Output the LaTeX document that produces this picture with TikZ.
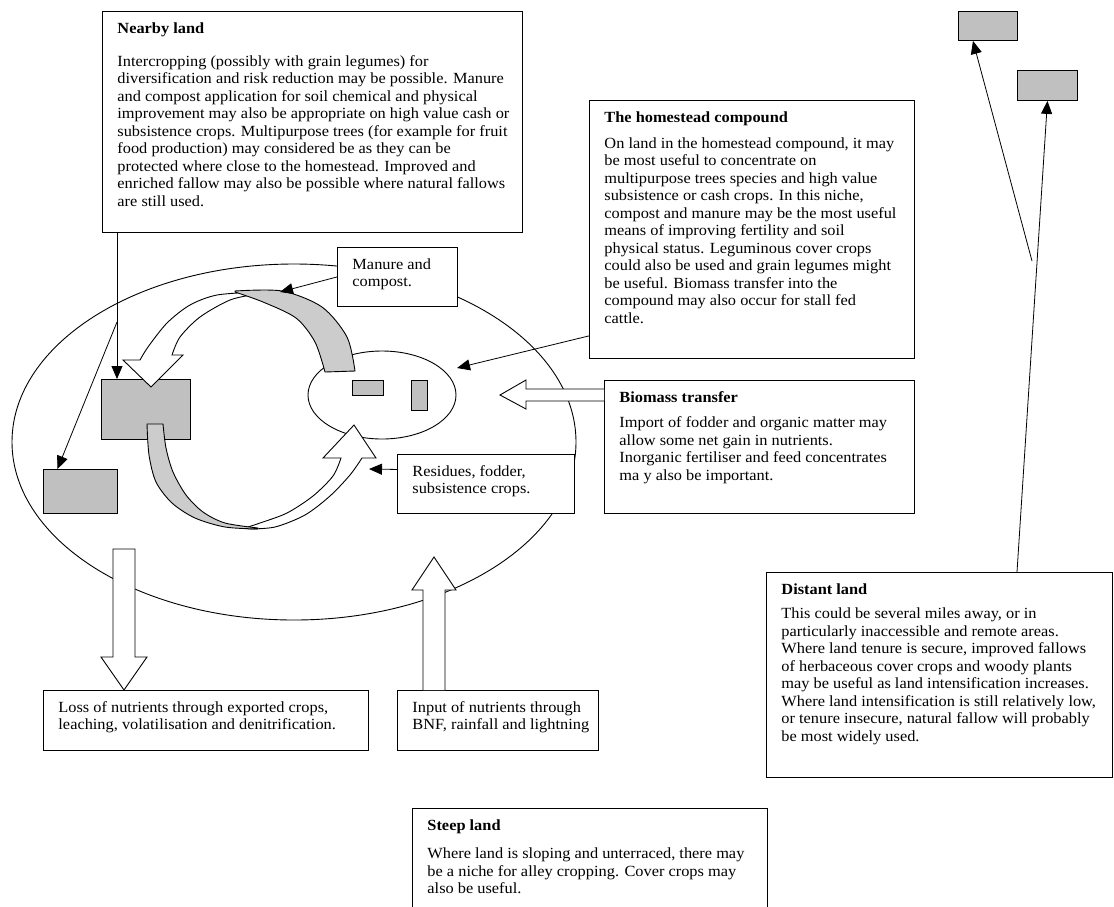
\documentclass[tikz,border=0pt]{standalone}
\usepackage{fontspec}
\setmainfont{Liberation Serif}[FakeStretch=1.055]
\usetikzlibrary{arrows.meta,calc,shapes.geometric}
\definecolor{fieldgray}{HTML}{C0C0C0}
\definecolor{bandgray}{HTML}{CCCCCC}
% one printed line, never re-wrapped
\newcommand\txtline[1]{\noindent\rlap{#1}\par}

\begin{document}
\begin{tikzpicture}[x=1pt,y=-1pt,
  panel/.style={draw, line width=0.9pt, fill=white, anchor=north west,
    inner xsep=15pt, inner ysep=11pt, font=\fontsize{15.5}{17.5}\selectfont},
  patch/.style={draw, line width=0.9pt, fill=fieldgray, anchor=north west, inner sep=0pt},
  link/.style={line width=0.8pt, -{Triangle[length=13pt,width=11pt]}},
  hollow/.style={draw, line width=0.9pt, fill=white, line join=miter},
  band/.style={draw, line width=0.9pt, fill=bandgray},
]
\useasboundingbox (0,0) rectangle (1114,906);
\clip (0,0) rectangle (1114,906);
\fill[white] (0,0) rectangle (1114,906);

% farm boundary and homestead
\draw[line width=0.9pt] (294,442) ellipse [x radius=282pt, y radius=178pt];
\node[draw, line width=0.9pt, ellipse, minimum width=148pt, minimum height=88pt, inner sep=0pt] (home) at (382,395) {};

% land parcels
\node[patch, minimum width=89pt, minimum height=60pt] (field) at (101,379) {};
\node[patch, minimum width=74pt, minimum height=44pt] (plot) at (43,469) {};
\node[patch, minimum width=31pt, minimum height=15pt] (hut) at (352,380) {};
\node[patch, minimum width=16pt, minimum height=30pt] (shed) at (411,380) {};
\node[patch, minimum width=59pt, minimum height=29pt] (farA) at (958,11) {};
\node[patch, minimum width=60pt, minimum height=30pt] (farB) at (1017,70) {};

% nutrient cycle: residues to the homestead
\path[hollow] plot[smooth] coordinates {(248,529) (275,527) (305,515) (330,496) (350,475) (362,458)}
  -- (376,458) -- (354,425) -- (323,458) -- (341,458)
  -- plot[smooth] coordinates {(341,458) (333,476) (313,496) (287,513) (260,523) (248,527)} -- cycle;
\path[band] plot[smooth] coordinates {(147,424) (149,455) (156,482) (172,503) (195,518) (225,527) (258,529)}
  -- plot[smooth] coordinates {(258,528) (225,523) (203,512) (186,495) (173,472) (166,448) (163,424)} -- cycle;

% nutrient cycle: manure back to the field
\path[hollow] plot[smooth] coordinates {(257,292) (217,295) (190,305) (167,323) (148,347) (140,360)}
  -- (123,360) -- (151,387) -- (183,355) -- (172,355)
  -- plot[smooth] coordinates {(172,355) (180,337) (200,317) (230,300) (257,294)} -- cycle;
\path[band] plot[smooth] coordinates {(355,371) (347,337) (322,307) (282,291) (235,291)}
  -- plot[smooth] coordinates {(235,292) (263,302) (296,318) (315,342) (325,372)} -- cycle;

% text panels
\node[panel] (nearby) at (102,11) {\parbox[t][199pt][t]{390pt}{%
\txtline{\textbf{Nearby land}}\vspace{15.5pt}
\txtline{Intercropping (possibly with grain legumes) for}
\txtline{diversification and risk reduction may be possible. Manure}
\txtline{and compost application for soil chemical and physical}
\txtline{improvement may also be appropriate on high value cash or}
\txtline{subsistence crops. Multipurpose trees (for example for fruit}
\txtline{food production) may considered be as they can be}
\txtline{protected where close to the homestead. Improved and}
\txtline{enriched fallow may also be possible where natural fallows}
\txtline{are still used.}}};

\node[panel] (compound) at (589,100) {\parbox[t][236pt][t]{295pt}{%
\txtline{\textbf{The homestead compound}}\vspace{8.5pt}
\txtline{On land in the homestead compound, it may}
\txtline{be most useful to concentrate on}
\txtline{multipurpose trees species and high value}
\txtline{subsistence or cash crops. In this niche,}
\txtline{compost and manure may be the most useful}
\txtline{means of improving fertility and soil}
\txtline{physical status. Leguminous cover crops}
\txtline{could also be used and grain legumes might}
\txtline{be useful. Biomass transfer into the}
\txtline{compound may also occur for stall fed}
\txtline{cattle.}}};

\node[panel] (manure) at (337,247) {\parbox[t][37pt][t]{90pt}{%
\txtline{Manure and}
\txtline{compost.}}};

\node[panel] (biomass) at (604,380) {\parbox[t][111pt][t]{280pt}{%
\txtline{\textbf{Biomass transfer}}\vspace{8pt}
\txtline{Import of fodder and organic matter may}
\txtline{allow some net gain in nutrients.}
\txtline{Inorganic fertiliser and feed concentrates}
\txtline{ma y also be important.}}};

\node[panel] (residues) at (397,454) {\parbox[t][37pt][t]{147pt}{%
\txtline{Residues, fodder,}
\txtline{subsistence crops.}}};

\node[panel] (loss) at (43,690) {\parbox[t][38pt][t]{295pt}{%
\txtline{Loss of nutrients through exported crops,}
\txtline{leaching, volatilisation and denitrification.}}};

\node[panel] (input) at (397,690) {\parbox[t][38pt][t]{171pt}{%
\txtline{Input of nutrients through}
\txtline{BNF, rainfall and lightning}}};

\node[panel] (distant) at (766,572) {\parbox[t][183pt][t]{316pt}{%
\txtline{\textbf{Distant land}}\vspace{7pt}
\txtline{This could be several miles away, or in}
\txtline{particularly inaccessible and remote areas.}
\txtline{Where land tenure is secure, improved fallows}
\txtline{of herbaceous cover crops and woody plants}
\txtline{may be useful as land intensification increases.}
\txtline{Where land intensification is still relatively low,}
\txtline{or tenure insecure, natural fallow will probably}
\txtline{be most widely used.}}};

\node[panel] (steep) at (412,808) {\parbox[t][98pt][t]{325pt}{%
\txtline{\textbf{Steep land}}\vspace{11pt}
\txtline{Where land is sloping and unterraced, there may}
\txtline{be a niche for alley cropping. Cover crops may}
\txtline{also be useful.}}};

% pointers from the panels
\coordinate (fork) at (117,322);
\coordinate (bandtop) at (280,292);
\coordinate (homeedge) at (457,368);
\coordinate (cycleside) at (369,469);
\coordinate (farfork) at (1032,261);
\draw[line width=0.8pt] ([xshift=15pt]nearby.south west) -- (fork);
\draw[link] (fork) -- ([xshift=16pt]field.north west);
\draw[link] (fork) -- ([xshift=-23pt]plot.north);
\draw[link] (manure.west) -- (bandtop);
\draw[link] ([yshift=23pt]compound.south west) -- (homeedge);
\draw[link] ([yshift=14.5pt]residues.west) -- (cycleside);
\draw[link] ([xshift=251pt]distant.north west) -- (farB.south);
\draw[link] (farfork) -- ([xshift=-15pt]farA.south);

% flows across the farm boundary
\path[hollow] (604,389) -- (526,389) -- (526,380) -- (500,395) -- (526,409) -- (526,401) -- (604,401);
\path[hollow] (113,549) -- (135,549) -- (135,657) -- (147,657) -- (124,690) -- (101,657) -- (113,657) -- cycle;
\path[hollow] (423,690) -- (423,590) -- (412,590) -- (434,557) -- (456,590) -- (445,590) -- (445,690);
\end{tikzpicture}
\end{document}
